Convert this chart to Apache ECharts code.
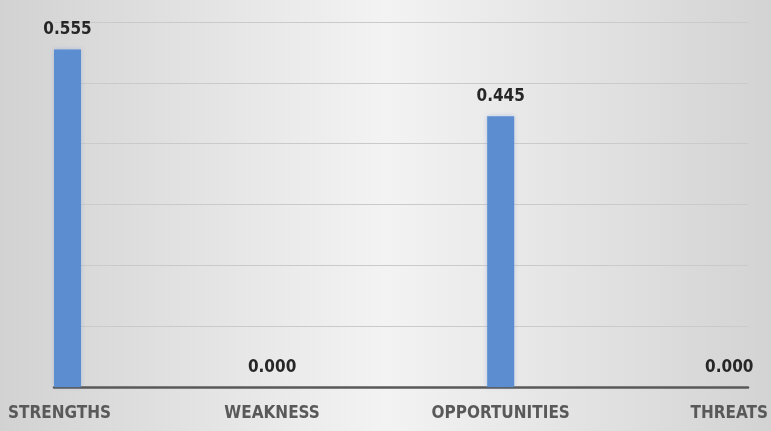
<!DOCTYPE html>
<html>
<head>
<meta charset="utf-8">
<script src="https://cdn.jsdelivr.net/npm/echarts@6/dist/echarts.min.js"></script>
<style>html,body{margin:0;padding:0;}#c{width:771px;height:431px;}</style>
</head>
<body>
<div id="c"></div>
<script>
const categories = ['STRENGTHS', 'WEAKNESS', 'OPPORTUNITIES', 'THREATS'];
const values = [0.555, 0.000, 0.445, 0.000];
const yTicks = [0, 0.1, 0.2, 0.3, 0.4, 0.5, 0.6];

const chart = echarts.init(document.getElementById('c'), null, {renderer: 'canvas'});
const yMin = yTicks[0], yMax = yTicks[yTicks.length - 1], yStep = yTicks[1] - yTicks[0];
// small horizontal nudges of the texts, as in the original layout
const nudge = {STRENGTHS: -8, WEAKNESS: -12, OPPORTUNITIES: 0, THREATS: 12};
const pad = d => d < 0 ? [0, -2 * d, 0, 0] : [0, 0, 0, 2 * d];
chart.setOption({
  animation: false,
  backgroundColor: {
    type: 'linear', x: 0, y: 0, x2: 1, y2: 0,
    colorStops: [
      {offset: 0, color: '#d2d2d2'},
      {offset: 0.5, color: '#f3f3f3'},
      {offset: 1, color: '#d3d3d3'}
    ]
  },
  grid: [
    {left: 67.5, right: 52.5, top: 22, bottom: 44},
    {left: 54, right: 23, top: 22, bottom: 44}
  ],
  xAxis: [
    {
      type: 'category', gridIndex: 0, boundaryGap: false,
      data: categories.map(c => ({value: c, textStyle: {padding: pad(nudge[c])}})),
      axisLine: {show: false}, axisTick: {show: false}, splitLine: {show: false},
      axisLabel: {
        margin: 18, color: '#595959', fontSize: 17, fontWeight: 'bold',
        fontFamily: '"DejaVu Sans Condensed", "Liberation Sans", sans-serif'
      }
    },
    {
      type: 'value', gridIndex: 1, min: 0, max: 1,
      axisLine: {show: true, lineStyle: {color: '#595959', width: 2.5}},
      axisTick: {show: false}, axisLabel: {show: false}, splitLine: {show: false}
    }
  ],
  yAxis: [
    {
      type: 'value', gridIndex: 0, min: yMin, max: yMax, interval: yStep,
      axisLine: {show: false}, axisTick: {show: false}, axisLabel: {show: false}, splitLine: {show: false}
    },
    {
      type: 'value', gridIndex: 1, min: yMin, max: yMax, interval: yStep,
      axisLine: {show: false}, axisTick: {show: false}, axisLabel: {show: false},
      splitLine: {show: true, lineStyle: {color: '#cacaca', width: 1}}
    }
  ],
  series: [{
    type: 'bar', xAxisIndex: 0, yAxisIndex: 0, barWidth: 27, clip: false,
    data: values.map((v, i) => ({
      value: v,
      label: {offset: [categories[i] === 'STRENGTHS' ? 0 : nudge[categories[i]], 0]}
    })),
    itemStyle: {color: '#5b8dd0', shadowColor: 'rgba(91,141,208,0.35)', shadowBlur: 4},
    label: {
      show: true, position: 'top', distance: 11,
      formatter: p => p.value.toFixed(3),
      color: '#262626', fontSize: 17, fontWeight: 'bold',
      fontFamily: '"DejaVu Sans Condensed", "Liberation Sans", sans-serif'
    }
  }]
});
</script>
</body>
</html>
